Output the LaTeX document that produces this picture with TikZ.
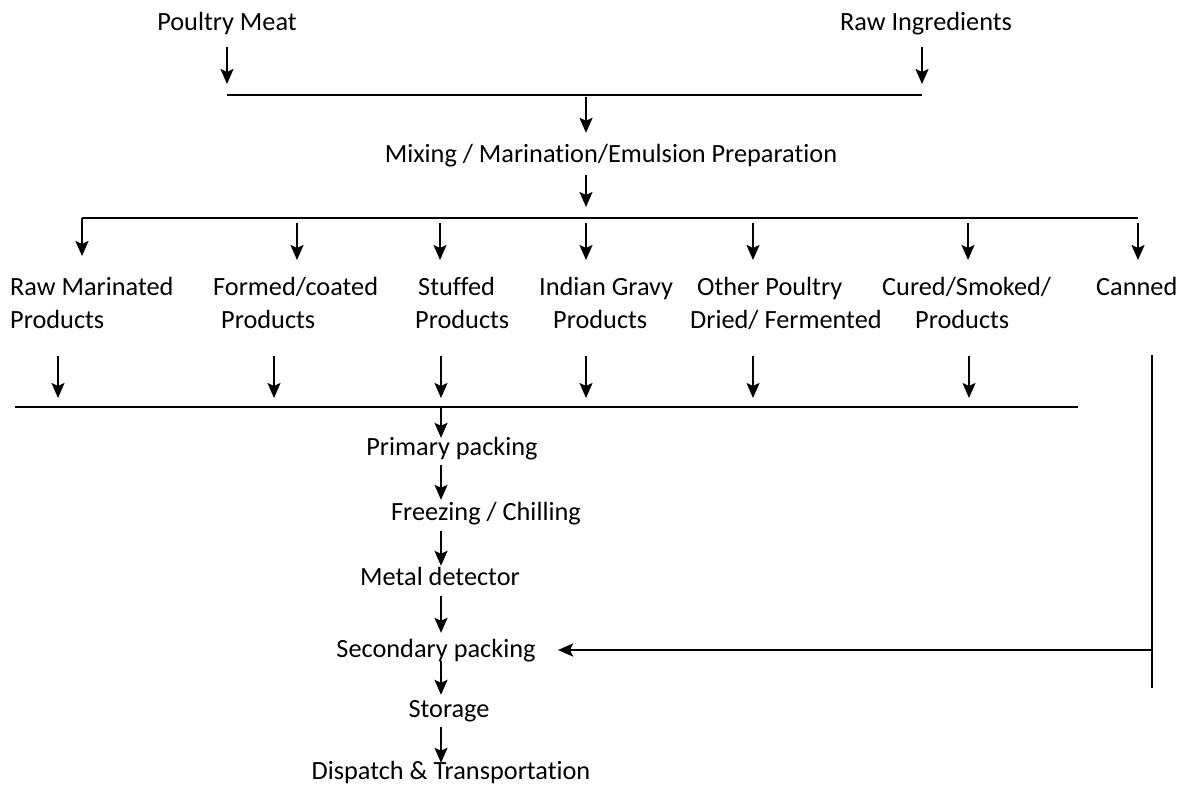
\documentclass[tikz,border=0pt]{standalone}
\usepackage{fontspec}
\setmainfont{Carlito}[Ligatures={NoCommon}]
\usetikzlibrary{arrows.meta}
\begin{document}
\begin{tikzpicture}[x=1pt,y=-1pt,
  lbl/.style={inner sep=0pt, anchor=base, text height=19pt, text depth=7pt,
              font=\fontsize{26.3}{33}\selectfont},
  prod/.style={lbl, anchor=base west, align=left},
  arr/.style={-{Stealth[length=15pt,width=13pt,inset=3pt]}, line width=2pt},
  bar/.style={line width=2.6pt},
  vline/.style={line width=1.8pt}]
\useasboundingbox (0,0) rectangle (1198,785);

% inputs
\node[lbl] (pm) at (227,30) {Poultry Meat};
\node[lbl] (ri) at (926,30) {Raw Ingredients};
\coordinate (inL) at (227,95);
\coordinate (inR) at (922,95);
\coordinate (inM) at (586,95);
\draw[arr, shorten <=10pt, shorten >=11pt] (pm.south) -- (inL);
\draw[arr, shorten <=10pt, shorten >=11pt] (ri.south -| inR) -- (inR);
\draw[bar] (inL) -- (inR);

% mixing step
\node[lbl] (mix) at (611,162) {Mixing / Marination/Emulsion Preparation};
\draw[arr, shorten <=2pt, shorten >=10pt] (inM) -- (mix.north -| inM);

% branching to the product groups
\coordinate (brL) at (82,218);
\coordinate (brR) at (1138,218);
\draw[arr, shorten <=6pt, shorten >=11pt] (mix.south -| inM) -- (inM |- brL);
\draw[bar] (brR) -- (brL);
\draw[arr] (brL) -- (82,256);
\foreach \x in {297,440,586,753,968,1138}
  \draw[arr] (\x,223) -- (\x,260);

% product groups (anchored on the second line)
\node[prod] (p1) at (10,328)  {Raw Marinated\\Products};
\node[prod] (p2) at (213,328) {Formed/coated\\\hspace*{8pt}Products};
\node[prod] (p3) at (415,328) {\hspace*{3pt}Stuffed\\Products};
\node[prod] (p4) at (539,328) {Indian Gravy\\\hspace*{14pt}Products};
\node[prod] (p5) at (690,328) {\hspace*{7pt}Other Poultry\\Dried/ Fermented};
\node[prod] (p6) at (882,328) {Cured/Smoked/\\\hspace*{33pt}Products};
\node[prod] (p7) at (1096,295) {Canned};

% collecting line
\coordinate (coL) at (15,407);
\coordinate (coR) at (1078,407);
\foreach \x in {58,274,441,586,753,969}
  \draw[arr] (\x,356) -- (\x,398);
\draw[bar] (coL) -- (coR);

% packing and dispatch chain
\coordinate (spine) at (441,407);
\node[lbl] (pp) at (452,455) {Primary packing};
\node[lbl] (fc) at (486,520) {Freezing / Chilling};
\node[lbl] (md) at (440,585) {Metal detector};
\node[lbl] (sp) at (436,657) {Secondary packing};
\node[lbl] (st) at (449,717) {Storage};
\node[lbl] (dt) at (451,779) {Dispatch \& Transportation};

\draw[arr, shorten <=1pt, shorten >=-2pt] (spine) -- (pp.north -| spine);
\draw[arr, shorten <=3pt, shorten >=1pt] (pp.south -| spine) -- (fc.north -| spine);
\draw[arr, shorten <=4pt, shorten >=0pt] (fc.south -| spine) -- (md.north -| spine);
\draw[arr, shorten <=4pt, shorten >=5pt] (md.south -| spine) -- (sp.north -| spine);
\draw[arr, shorten <=-3pt, shorten >=3pt] (sp.south -| spine) -- (st.north -| spine);
\draw[arr, shorten <=3pt, shorten >=-3pt] (st.south -| spine) -- (dt.north -| spine);

% canned products bypass
\coordinate (cT) at (1152,355);
\coordinate (cB) at (1152,688);
\coordinate (cJ) at (1152,650);
\draw[vline] (cT) -- (cB);
\draw[arr, line width=2.6pt] (cJ) -- (558,650);
\end{tikzpicture}
\end{document}
